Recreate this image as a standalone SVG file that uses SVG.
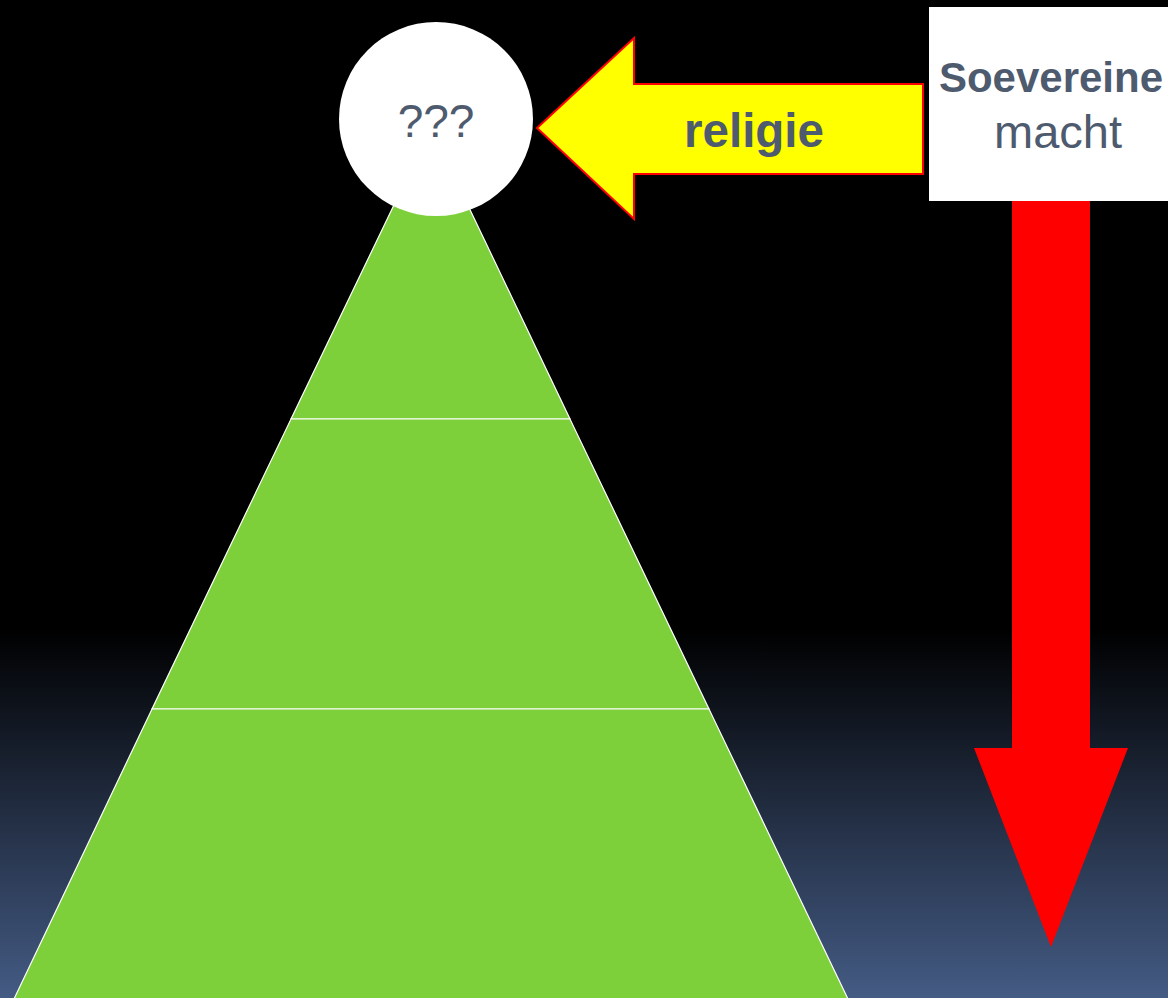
<svg xmlns="http://www.w3.org/2000/svg" width="1168" height="998" viewBox="0 0 1168 998">
<defs>
<linearGradient id="bg" x1="0" y1="0" x2="0" y2="998" gradientUnits="userSpaceOnUse">
<stop offset="0" stop-color="#000000"/>
<stop offset="0.63" stop-color="#000000"/>
<stop offset="1" stop-color="#445b84"/>
</linearGradient>
<style>
.tier{fill:#7ed03b;stroke:#ffffff;stroke-width:1.2;}
.lbl{font-family:"Liberation Sans",Arial,sans-serif;fill:#4e5a6e;text-anchor:middle;}
</style>
</defs>
<rect x="0" y="0" width="1168" height="998" fill="url(#bg)"/>
<g id="pyramid">
<polygon class="tier" points="431,128 570,419 291,419"/>
<polygon class="tier" points="291,419 570,419 709,709 152,709"/>
<polygon class="tier" points="152,709 709,709 848,999 14,999"/>
</g>
<g id="top-circle">
<circle cx="436" cy="119" r="97" fill="#ffffff"/>
<text class="lbl" x="436" y="137" font-size="46">???</text>
</g>
<g id="connectors">
<g id="religie-arrow">
<polygon points="537,128 634,38 634,84 923,84 923,174 634,174 634,219" fill="#ffff00" stroke="#ff0000" stroke-width="2"/>
<text class="lbl" x="754" y="147" font-size="47.5" font-weight="bold">religie</text>
</g>
<g id="down-arrow">
<polygon points="1012,201 1090,201 1090,748 1128,748 1051,947 974,748 1012,748" fill="#ff0000"/>
</g>
</g>
<g id="sovereign-box">
<rect x="929" y="7" width="245" height="194" fill="#ffffff"/>
<text class="lbl" x="1051" y="92" font-size="42" font-weight="bold">Soevereine</text>
<text class="lbl" x="1058" y="148" font-size="47">macht</text>
</g>
</svg>
